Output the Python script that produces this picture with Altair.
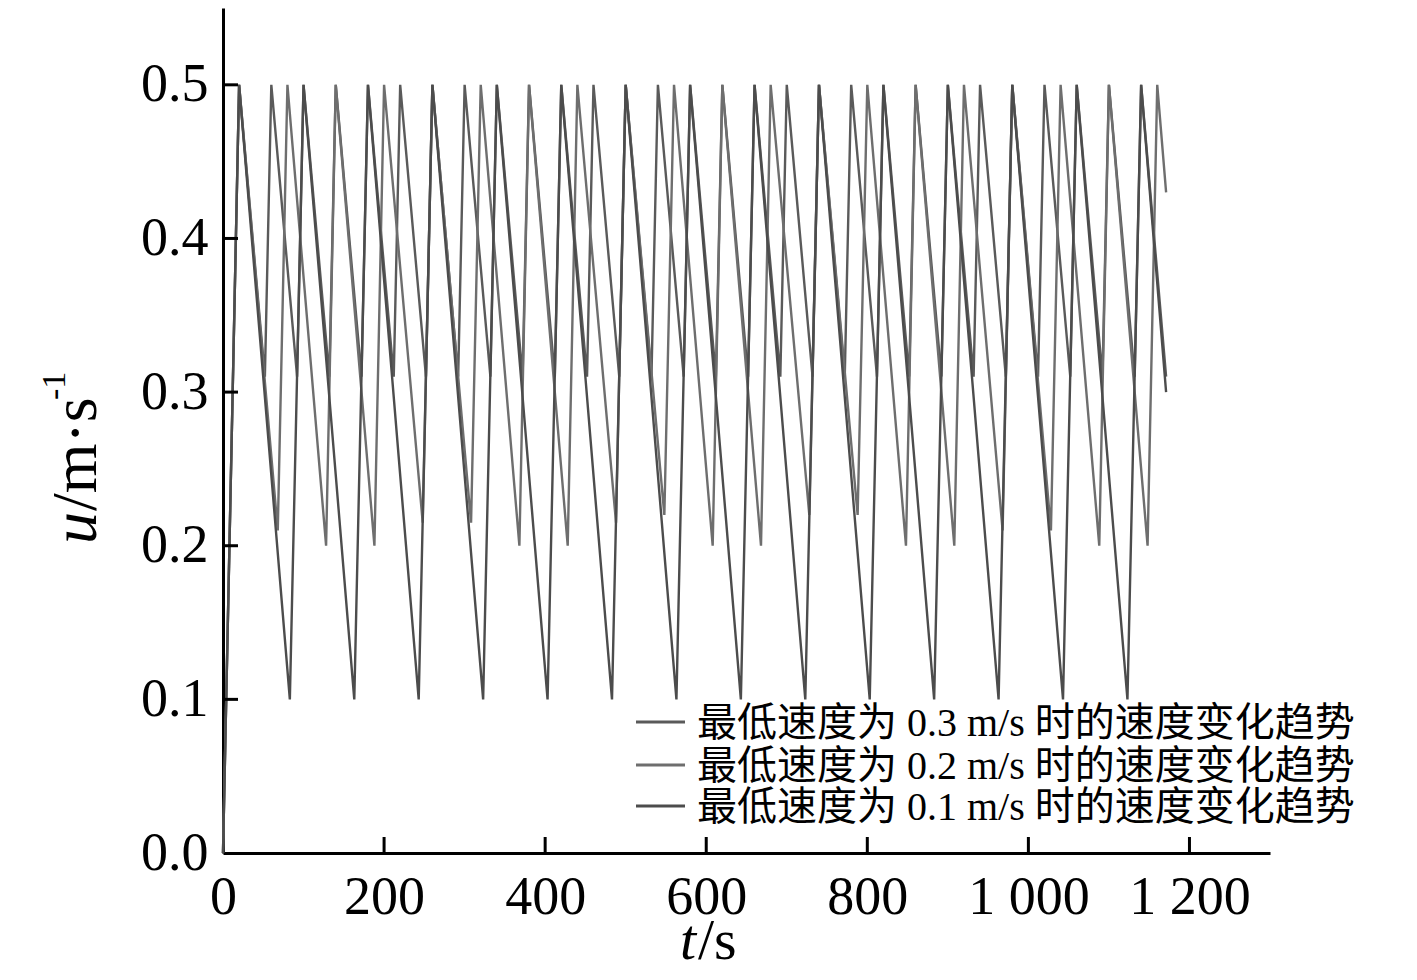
import altair as alt
import pandas as pd

# ---------------- data ----------------
series_names = ["最低速度为 0.3 m/s 时的速度变化趋势",
                "最低速度为 0.2 m/s 时的速度变化趋势",
                "最低速度为 0.1 m/s 时的速度变化趋势"]
series_colors = ["#5a5a5a", "#6e6e6e", "#4c4c4c"]

# minimum speed 0.3 m/s
t_03 = [0, 20, 52, 60, 92, 100, 132, 140, 172, 180, 212, 220, 252, 260, 292, 300,
        332, 340, 372, 380, 412, 420, 452, 460, 492, 500, 532, 540, 572, 580, 612, 620,
        652, 660, 692, 700, 732, 740, 772, 780, 812, 820, 852, 860, 892, 900, 932, 940,
        972, 980, 1012, 1020, 1052, 1060, 1092, 1100, 1132, 1140, 1171]
u_03 = [0.0, 0.5, 0.31, 0.5, 0.31, 0.5, 0.31, 0.5, 0.31, 0.5, 0.31, 0.5, 0.31, 0.5, 0.31, 0.5,
        0.31, 0.5, 0.31, 0.5, 0.31, 0.5, 0.31, 0.5, 0.31, 0.5, 0.31, 0.5, 0.31, 0.5, 0.31, 0.5,
        0.31, 0.5, 0.31, 0.5, 0.31, 0.5, 0.31, 0.5, 0.31, 0.5, 0.31, 0.5, 0.31, 0.5, 0.31, 0.5,
        0.31, 0.5, 0.31, 0.5, 0.31, 0.5, 0.31, 0.5, 0.31, 0.5, 0.31]

# minimum speed 0.2 m/s
t_02 = [0, 20, 68, 80, 128, 140, 188, 200, 248, 260, 308, 320, 368, 380, 428, 440,
        488, 500, 548, 560, 608, 620, 668, 680, 728, 740, 788, 800, 848, 860, 908, 920,
        968, 980, 1028, 1040, 1088, 1100, 1148, 1160, 1171]
u_02 = [0.0, 0.5, 0.21, 0.5, 0.2, 0.5, 0.2, 0.5, 0.215, 0.5, 0.215, 0.5, 0.2, 0.5, 0.2, 0.5,
        0.215, 0.5, 0.22, 0.5, 0.2, 0.5, 0.2, 0.5, 0.22, 0.5, 0.22, 0.5, 0.2, 0.5, 0.2, 0.5,
        0.21, 0.5, 0.21, 0.5, 0.2, 0.5, 0.2, 0.5, 0.43]

# minimum speed 0.1 m/s
t_01 = [0, 20, 83, 100, 163, 180, 243, 260, 323, 340, 403, 420, 483, 500, 563, 580,
        643, 660, 723, 740, 803, 820, 883, 900, 963, 980, 1043, 1060, 1123, 1140, 1171]
u_01 = [0.0, 0.5, 0.1, 0.5, 0.1, 0.5, 0.1, 0.5, 0.1, 0.5, 0.1, 0.5, 0.1, 0.5, 0.1, 0.5,
        0.1, 0.5, 0.1, 0.5, 0.1, 0.5, 0.1, 0.5, 0.1, 0.5, 0.1, 0.5, 0.1, 0.5, 0.3]

x_tick_values = [0, 200, 400, 600, 800, 1000, 1200]
y_tick_values = [0.0, 0.1, 0.2, 0.3, 0.4, 0.5]

# ---------------- build table ----------------
frames = []
for name, ts, us in zip(series_names, [t_03, t_02, t_01], [u_03, u_02, u_01]):
    frames.append(pd.DataFrame({"t": ts, "u": us, "series": name}))
df = pd.concat(frames, ignore_index=True)

W, H = 1047, 845
SERIF = "Liberation Serif"
MIXED = "Liberation Serif, Noto Sans CJK SC"
x_scale = alt.Scale(domain=[0, 1300], nice=False, zero=False)
y_scale = alt.Scale(domain=[0, 0.55], nice=False, zero=False)

x_axis = alt.Axis(values=x_tick_values, title=None, grid=False, ticks=False,
                  domainColor="black", domainWidth=3,
                  labelFont=SERIF, labelFontSize=54, labelColor="black",
                  labelPadding=17, labelOverlap=False, labelFlush=False,
                  labelBound=False,
                  labelExpr="datum.value >= 1000 ? floor(datum.value / 1000) + ' ' + format(datum.value % 1000, '03d') : format(datum.value, 'd')")
y_axis = alt.Axis(values=y_tick_values, format=".1f", title=None, grid=False,
                  ticks=False, domainColor="black", domainWidth=3,
                  labelFont=SERIF, labelFontSize=54, labelColor="black",
                  labelPadding=15, labelOverlap=False, labelFlush=False,
                  labelBound=False)

lines = alt.Chart(df).mark_line(strokeWidth=2.4).encode(
    x=alt.X("t:Q", scale=x_scale, axis=x_axis),
    y=alt.Y("u:Q", scale=y_scale, axis=y_axis),
    color=alt.Color("series:N", scale=alt.Scale(domain=series_names, range=series_colors),
                    legend=None),
)

ytick_df = pd.DataFrame({"u": y_tick_values[1:]})
yticks = alt.Chart(ytick_df).mark_rule(color="black", strokeWidth=3).encode(
    y=alt.Y("u:Q", scale=y_scale, axis=y_axis),
    x=alt.value(0), x2=alt.value(15),
)
xtick_df = pd.DataFrame({"t": x_tick_values[1:]})
xticks = alt.Chart(xtick_df).mark_rule(color="black", strokeWidth=3).encode(
    x=alt.X("t:Q", scale=x_scale, axis=x_axis),
    y=alt.value(H), y2=alt.value(H - 16),
)

one = pd.DataFrame({"a": [0]})
layers = [lines, yticks, xticks]

# legend (drawn by hand)
leg_y = [714, 757, 798]
for name, col, yy in zip(series_names, series_colors, leg_y):
    layers.append(alt.Chart(one).mark_rule(color=col, strokeWidth=3).encode(
        x=alt.value(413), x2=alt.value(462), y=alt.value(yy)))
    layers.append(alt.Chart(one).mark_text(align="left", baseline="middle", font=MIXED,
                                           fontSize=40, color="black").encode(
        x=alt.value(474), y=alt.value(yy + 2), text=alt.value(name)))


def vtext(txt, x, y, size=64, style="normal"):
    return alt.Chart(one).mark_text(align="left", baseline="alphabetic", angle=270,
                                    font=SERIF, fontSize=size, fontStyle=style,
                                    color="black").encode(
        x=alt.value(x), y=alt.value(y), text=alt.value(txt))


# y axis title: u/m·s^-1 (rotated)
layers.append(vtext("u", -127, 536, style="italic"))
layers.append(vtext("/m·s", -127, 503))
layers.append(vtext("-1", -158, 392, size=34))

# x axis title: t/s
layers.append(alt.Chart(one).mark_text(align="left", baseline="alphabetic",
                                       font=SERIF, fontSize=58, fontStyle="italic",
                                       color="black").encode(
    x=alt.value(457), y=alt.value(H + 106), text=alt.value("t")))
layers.append(alt.Chart(one).mark_text(align="left", baseline="alphabetic",
                                       font=SERIF, fontSize=58, color="black").encode(
    x=alt.value(475), y=alt.value(H + 106), text=alt.value("/s")))

chart = alt.layer(*layers).properties(
    width=W, height=H,
    padding={"left": 215, "top": 0, "right": 130, "bottom": 118},
    autosize=alt.AutoSizeParams(type="none"),
).configure_view(stroke=None)

chart.save("out.html", embed_options={"renderer": "svg", "actions": False})
